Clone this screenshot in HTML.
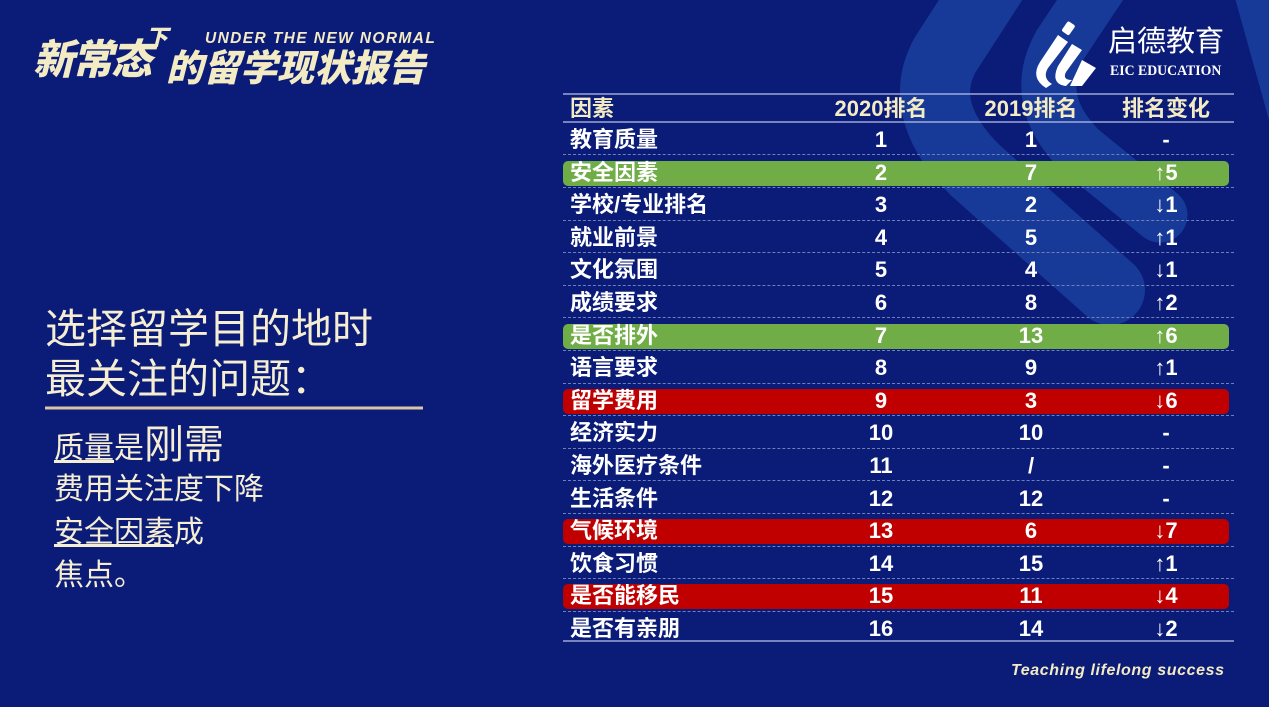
<!DOCTYPE html>
<html><head><meta charset="utf-8"><style>
html,body{margin:0;padding:0}
body{width:1269px;height:707px;background:#0b1b78;position:relative;overflow:hidden;font-family:"Liberation Sans","Noto Sans CJK SC",sans-serif}
.abs{position:absolute}
.cell{position:absolute;font-weight:bold;font-size:22px;color:#fff;line-height:26px;white-space:nowrap}
.hd{color:#f3ebc4}
.bar{position:absolute;left:563px;width:666px;height:25px;border-radius:5px}
.dash{position:absolute;left:563px;width:671px;border-top:1px dashed #6f7fb8}
.lt{position:absolute;left:45px;color:#f5eed2;font-family:"Liberation Sans","Noto Sans CJK SC",sans-serif;white-space:nowrap;line-height:1}
.tt{position:absolute;color:#f3ebc4;font-weight:900;font-style:italic;white-space:nowrap;line-height:1}
</style></head><body>
<svg class="abs" style="left:0;top:0" width="1269" height="707">
<path d="M1000,-30 L945,55 Q915,110 975,170 L1110,290" stroke="#173a98" stroke-width="70" fill="none" stroke-linecap="round"/>
<path d="M1110,-30 L1060,45 Q1030,100 1080,150 L1160,215" stroke="#173a98" stroke-width="55" fill="none" stroke-linecap="round"/>
<path d="M1230,-20 L1269,-20 L1269,120 Z" fill="#173a98"/>
<path d="M1058,35 L1068,42 L1048,68 Q1042,78 1052,84 L1046,88 Q1030,78 1040,62 Z" fill="#fff"/>
<rect x="1064" y="22" width="9" height="12" rx="2" transform="rotate(35 1068 28)" fill="#fff"/>
<path d="M1072,44 L1082,50 L1066,72 Q1062,80 1072,80 L1066,86 Q1050,84 1058,66 Z" fill="#fff"/>
<path d="M1082,60 L1096,68 L1082,86 L1070,86 Z" fill="#fff"/>
<line x1="45" y1="408" x2="423" y2="408" stroke="#d8c7a4" stroke-width="3"/>
<line x1="563" y1="94" x2="1234" y2="94" stroke="#b8c2e6" stroke-width="1.2"/>
<line x1="563" y1="122" x2="1234" y2="122" stroke="#b8c2e6" stroke-width="1.2"/>
<line x1="563" y1="641" x2="1234" y2="641" stroke="#b8c2e6" stroke-width="1.2"/>
</svg>
<div class="abs" style="left:205px;top:30px;color:#f3ebc4;font-weight:bold;font-style:italic;font-size:15.5px;letter-spacing:1.4px">UNDER THE NEW NORMAL</div>
<div class="tt" style="left:33px;top:40px;font-size:41px;letter-spacing:-2px">新常态</div>
<div class="tt" style="left:146px;top:27px;font-size:22px">下</div>
<div class="tt" style="left:166px;top:50px;font-size:37px;letter-spacing:0">的留学现状报告</div>
<div class="abs" style="left:1108px;top:27px;color:#fff;font-size:29px;line-height:1.1">启德教育</div>
<div class="abs" style="left:1110px;top:63px;color:#fff;font-family:'Liberation Serif',serif;font-weight:bold;font-size:15px;transform:scaleX(0.92);transform-origin:left">EIC EDUCATION</div>
<div class="abs" style="left:1011px;top:662px;color:#f3ebc4;font-weight:bold;font-style:italic;font-size:16px;letter-spacing:0.6px">Teaching lifelong success</div>

<div class="lt" style="top:309px;font-size:41px">选择留学目的地时</div>
<div class="lt" style="top:359px;font-size:41px">最关注的问题：</div>
<div class="lt" style="left:54px;top:425px;font-size:30px"><u>质量</u>是<span style="font-size:40px">刚需</span></div>
<div class="lt" style="left:54px;top:475px;font-size:30px">费用关注度下降</div>
<div class="lt" style="left:54px;top:518px;font-size:30px"><u>安全因素</u>成</div>
<div class="lt" style="left:54px;top:561px;font-size:30px">焦点。</div>

<div id="t"></div>
<script>
var rows=[["教育质量","1","1","-",""],["安全因素","2","7","↑5","g"],["学校/专业排名","3","2","↓1",""],["就业前景","4","5","↑1",""],["文化氛围","5","4","↓1",""],["成绩要求","6","8","↑2",""],["是否排外","7","13","↑6","g"],["语言要求","8","9","↑1",""],["留学费用","9","3","↓6","r"],["经济实力","10","10","-",""],["海外医疗条件","11","/","-",""],["生活条件","12","12","-",""],["气候环境","13","6","↓7","r"],["饮食习惯","14","15","↑1",""],["是否能移民","15","11","↓4","r"],["是否有亲朋","16","14","↓2",""]];
var h='';
function c(x,y,t,cls,center){return '<div class="cell '+cls+'" style="'+(center?'left:'+(x-60)+'px;width:120px;text-align:center;':'left:'+x+'px;')+'top:'+y+'px">'+t+'</div>';}
h+=c(570,96,'因素','hd',0)+c(881,96,'2020排名','hd',1)+c(1031,96,'2019排名','hd',1)+c(1166,96,'排名变化','hd',1);
for(var i=0;i<16;i++){var cy=138+i*32.6;var r=rows[i];
if(r[4])h+='<div class="bar" style="top:'+(cy-10)+'px;background:'+(r[4]=='g'?'#70ad47':'#c00000')+'"></div>';
if(i>0)h+='<div class="dash" style="top:'+(cy-16.3)+'px"></div>';
h+=c(570,cy-11,r[0],'',0)+c(881,cy-11,r[1],'',1)+c(1031,cy-11,r[2],'',1)+c(1166,cy-11,r[3],'',1);}
document.getElementById('t').innerHTML=h;
</script>
</body></html>
